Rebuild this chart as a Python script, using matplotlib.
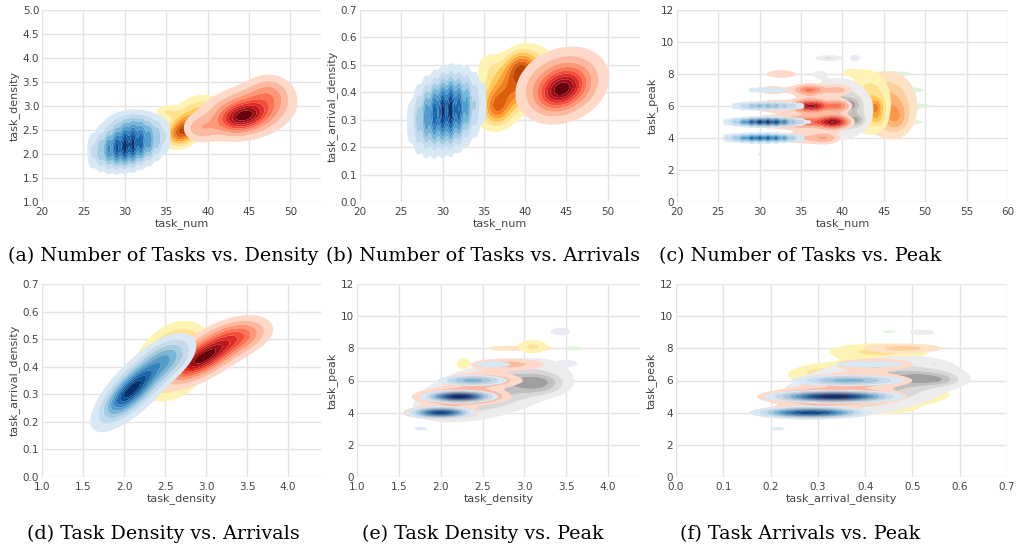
import numpy as np
import matplotlib
matplotlib.use("Agg")
import matplotlib.pyplot as plt

# Each density group is a mixture of Gaussian kernels:
# (centre_x, centre_y, spread_x, spread_y, correlation, relative_height)

# ---------------- (a) task_num vs task_density ----------------
a_blue_num = [26, 27, 28, 29, 30, 31, 32, 33, 34, 35]
a_blue_density = [2.02, 2.05, 2.08, 2.11, 2.14, 2.17, 2.2, 2.24, 2.28, 2.32]
a_blue_weight = [0.2, 0.38, 0.62, 0.85, 1.0, 0.95, 0.75, 0.52, 0.32, 0.16]
a_blue_extra = [(31.0, 2.62, 2.0, 0.2, 0.0, 0.3), (30.5, 2.25, 3.0, 0.33, 0.2, 0.25)]
a_yellow = [(37.0, 2.48, 1.3, 0.2, 0.3, 1.0), (39.5, 2.85, 2.0, 0.25, 0.0, 0.45),
            (35.0, 2.88, 1.0, 0.1, 0.0, 0.25)]
a_red = [(44.3, 2.78, 1.7, 0.18, 0.3, 0.55), (44.6, 2.85, 3.3, 0.33, 0.2, 0.5),
         (39.0, 2.52, 1.3, 0.18, 0.0, 0.2), (47.5, 3.3, 1.8, 0.25, 0.0, 0.22)]

# ---------------- (b) task_num vs task_arrival_density ----------------
b_blue_num = [26, 27, 28, 29, 30, 31, 32, 33, 34, 35]
b_blue_arrival = [0.29, 0.3, 0.31, 0.32, 0.33, 0.335, 0.34, 0.35, 0.355, 0.36]
b_blue_weight = [0.15, 0.35, 0.6, 0.8, 0.95, 1.0, 0.8, 0.55, 0.3, 0.15]
b_yellow = [(38.5, 0.42, 2.6, 0.08, 0.5, 1.0), (36.6, 0.34, 1.0, 0.04, 0.0, 0.5),
            (39.5, 0.49, 1.2, 0.04, 0.0, 0.6), (35.5, 0.5, 1.2, 0.04, 0.0, 0.2)]
b_red = [(44.4, 0.41, 1.6, 0.04, 0.3, 0.55), (44.5, 0.425, 3.2, 0.08, 0.2, 0.5)]

# ---------------- (c) task_num vs task_peak ----------------
c_blue_peak = [3, 4, 5, 6, 7]
c_blue_num = [26, 27, 28, 29, 30, 31, 32, 33, 34, 35, 36]
c_blue_weight = [
    [0.0, 0.0, 0.0, 0.0, 0.12, 0.0, 0.0, 0.0, 0.0, 0.0, 0.0],
    [0.25, 0.4, 0.6, 0.8, 0.85, 0.85, 0.75, 0.55, 0.35, 0.2, 0.0],
    [0.2, 0.35, 0.6, 0.85, 1.0, 1.0, 0.9, 0.65, 0.4, 0.25, 0.12],
    [0.0, 0.18, 0.3, 0.4, 0.45, 0.45, 0.42, 0.35, 0.28, 0.18, 0.0],
    [0.0, 0.0, 0.0, 0.15, 0.17, 0.18, 0.17, 0.14, 0.0, 0.0, 0.0],
]
c_red = [(35.0, 4, 2.0, 0.27, 0, 0.25), (38.0, 4, 1.2, 0.27, 0, 0.3),
         (39.0, 5, 1.2, 0.27, 0, 1.0), (35.5, 5, 2.0, 0.27, 0, 0.55), (31.0, 5, 2.5, 0.27, 0, 0.3),
         (36.3, 6, 1.3, 0.27, 0, 1.0), (39.5, 6, 1.0, 0.27, 0, 0.5), (32.0, 6, 2.5, 0.27, 0, 0.3),
         (36.0, 7, 1.3, 0.25, 0, 0.55), (39.5, 7, 1.2, 0.25, 0, 0.3), (31.5, 7, 1.5, 0.25, 0, 0.2),
         (32.6, 8, 1.5, 0.2, 0, 0.25)]
c_grey = [(39.5, 5.8, 2.6, 1.2, 0, 1.0), (41.6, 5.1, 0.7, 0.25, 0, 0.6), (41.0, 6.1, 0.7, 0.25, 0, 0.5),
          (37.2, 8, 0.6, 0.18, 0, 0.35), (38.3, 9, 1.3, 0.14, 0, 0.55)]
c_yellow = [(43.3, 6.2, 1.7, 1.35, 0, 1.0), (44.0, 5.9, 0.6, 0.35, 0, 0.9),
            (44.2, 5.2, 0.6, 0.3, 0, 0.5), (40.8, 8.1, 1.0, 0.22, 0, 0.35)]
c_orange = [(45.5, 6.1, 2.2, 1.3, 0, 1.0), (46.5, 5.2, 1.0, 0.6, 0, 0.5)]
c_green = [(45.8, 8, 2.4, 0.16, 0, 0.9), (47.5, 7, 2.2, 0.16, 0, 0.9),
           (48.0, 6, 2.2, 0.16, 0, 1.0), (48.0, 5, 1.6, 0.14, 0, 0.85)]
c_purple = [(41.5, 9, 0.5, 0.17, 0, 1.0)]

# ---------------- (d) task_density vs task_arrival_density ----------------
d_blue = [(2.07, 0.31, 0.17, 0.05, 0.75, 0.5), (2.15, 0.33, 0.3, 0.09, 0.75, 0.55),
          (2.55, 0.43, 0.2, 0.05, 0.5, 0.3)]
d_red = [(2.95, 0.43, 0.2, 0.04, 0.7, 0.5), (3.0, 0.44, 0.35, 0.07, 0.7, 0.55),
         (3.4, 0.51, 0.25, 0.04, 0.3, 0.3)]
d_yellow = [(2.6, 0.42, 0.25, 0.075, 0.3, 1.0)]

# ---------------- (e) task_density vs task_peak ----------------
e_blue = [(2.0, 4, 0.2, 0.2, 0, 0.9), (2.22, 5, 0.22, 0.2, 0, 1.0), (2.38, 6, 0.24, 0.2, 0, 0.45),
          (2.63, 7, 0.2, 0.18, 0, 0.17), (1.76, 3, 0.1, 0.14, 0, 0.13)]
e_red = [(2.25, 5, 0.3, 0.3, 0, 1.0), (2.5, 6, 0.3, 0.3, 0, 0.5), (2.8, 7, 0.32, 0.27, 0, 0.35),
         (2.0, 4, 0.25, 0.25, 0, 0.7)]
e_grey = [(2.6, 5.4, 0.58, 1.25, 0.5, 1.0), (3.15, 6.0, 0.2, 0.3, 0, 0.6), (3.2, 5.5, 0.2, 0.3, 0, 0.4)]
e_yellow = [(3.1, 8.1, 0.14, 0.32, 0, 1.0), (2.27, 7.05, 0.07, 0.3, 0, 0.85)]
e_orange = [(3.05, 8.0, 0.32, 0.17, 0, 1.0), (2.7, 8.0, 0.1, 0.1, 0, 0.7)]
e_green = [(3.57, 8, 0.1, 0.1, 0, 1.0), (3.6, 7, 0.05, 0.07, 0, 0.7)]
e_purple = [(3.43, 9.05, 0.1, 0.2, 0, 1.0), (3.49, 7.05, 0.12, 0.2, 0, 0.95)]

# ---------------- (f) task_arrival_density vs task_peak ----------------
f_blue = [(0.285, 4, 0.062, 0.2, 0, 0.9), (0.335, 5, 0.07, 0.2, 0, 1.0), (0.365, 6, 0.07, 0.2, 0, 0.45),
          (0.41, 7, 0.07, 0.18, 0, 0.17), (0.215, 3, 0.02, 0.14, 0, 0.13)]
f_red = [(0.33, 5, 0.08, 0.3, 0, 1.0), (0.38, 6, 0.075, 0.3, 0, 0.5), (0.42, 7, 0.06, 0.27, 0, 0.35),
         (0.28, 4, 0.07, 0.25, 0, 0.6), (0.55, 7.05, 0.012, 0.1, 0, 0.12)]
f_grey = [(0.41, 5.6, 0.12, 1.2, 0.4, 1.0), (0.52, 6.15, 0.045, 0.3, 0, 0.6),
          (0.56, 6.0, 0.03, 0.25, 0, 0.3), (0.52, 9, 0.025, 0.15, 0, 0.45)]
f_yellow = [(0.5, 5.1, 0.05, 0.35, 0, 1.0), (0.42, 4.2, 0.08, 0.3, 0, 0.5), (0.38, 6.3, 0.1, 0.5, 0, 0.6),
            (0.43, 7.8, 0.08, 0.4, 0, 0.7), (0.32, 6.5, 0.05, 0.4, 0, 0.4)]
f_orange = [(0.48, 8.0, 0.06, 0.22, 0, 1.0)]
f_green = [(0.452, 9.04, 0.014, 0.07, 0, 1.0), (0.4, 8.2, 0.012, 0.06, 0, 0.8)]

captions = ["(a) Number of Tasks vs. Density", "(b) Number of Tasks vs. Arrivals",
            "(c) Number of Tasks vs. Peak", "(d) Task Density vs. Arrivals",
            "(e) Task Density vs. Peak", "(f) Task Arrivals vs. Peak"]


def columns(xs, ys, ws, sx, sy):
    return [(x, y, sx, sy, 0.0, w) for x, y, w in zip(xs, ys, ws) if w > 0]


def grid_cells(xs, rows, weights, sx, sy):
    out = []
    for r, row in zip(rows, weights):
        for x, w in zip(xs, row):
            if w > 0:
                out.append((x, r, sx, sy, 0.0, w))
    return out


def mixture(X, Y, comps):
    Z = np.zeros_like(X)
    for mx, my, sx, sy, r, w in comps:
        dx = (X - mx) / sx
        dy = (Y - my) / sy
        q = (dx * dx - 2 * r * dx * dy + dy * dy) / (1 - r * r)
        Z += w * np.exp(-0.5 * q)
    return Z


def kde_fill(ax, comps, cmap_name, scale=1.0, nlev=10):
    """Filled density contours; the lowest band is left empty.
    scale > 1 means the group's densest part lies outside the shown mixture,
    so only the lighter shades appear."""
    x0, x1 = ax.get_xlim()
    y0, y1 = ax.get_ylim()
    X, Y = np.meshgrid(np.linspace(x0, x1, 600), np.linspace(y0, y1, 600))
    Z = mixture(X, Y, comps)
    zmax = Z.max() * scale
    levels = zmax * np.linspace(0.1, 1.0, nlev)
    levels[-1] = zmax * 1.001
    colors = plt.get_cmap(cmap_name)(np.linspace(0.15, 1.0, nlev - 1))
    ax.contourf(X, Y, Z, levels=levels, colors=colors, antialiased=True)


W, H = 1020, 552
fig = plt.figure(figsize=(W / 100, H / 100), dpi=100)
fig.patch.set_facecolor("white")

boxes = [(42, 321, 10, 202), (360, 640, 10, 202), (677, 1008, 10, 202),
         (42, 321, 284, 477), (357, 640, 284, 477), (676, 1007, 284, 477)]
axes = []
for l, r, t, b in boxes:
    ax = fig.add_axes([l / W, 1 - b / H, (r - l) / W, (b - t) / H])
    axes.append(ax)

tick_col = "#444444"
specs = [
    dict(xlim=(20, 53.7), ylim=(1.0, 5.0), xt=np.arange(20, 51, 5), yt=np.arange(1.0, 5.01, 0.5),
         xf="{:.0f}", yf="{:.1f}", xl="task_num", yl="task_density"),
    dict(xlim=(20, 53.9), ylim=(0.0, 0.7), xt=np.arange(20, 51, 5), yt=np.arange(0.0, 0.71, 0.1),
         xf="{:.0f}", yf="{:.1f}", xl="task_num", yl="task_arrival_density"),
    dict(xlim=(20, 60), ylim=(0, 12), xt=np.arange(20, 61, 5), yt=np.arange(0, 13, 2),
         xf="{:.0f}", yf="{:.0f}", xl="task_num", yl="task_peak"),
    dict(xlim=(1.0, 4.4), ylim=(0.0, 0.7), xt=np.arange(1.0, 4.01, 0.5), yt=np.arange(0.0, 0.71, 0.1),
         xf="{:.1f}", yf="{:.1f}", xl="task_density", yl="task_arrival_density"),
    dict(xlim=(1.0, 4.38), ylim=(0, 12), xt=np.arange(1.0, 4.01, 0.5), yt=np.arange(0, 13, 2),
         xf="{:.1f}", yf="{:.0f}", xl="task_density", yl="task_peak"),
    dict(xlim=(0.0, 0.7), ylim=(0, 12), xt=np.arange(0.0, 0.71, 0.1), yt=np.arange(0, 13, 2),
         xf="{:.1f}", yf="{:.0f}", xl="task_arrival_density", yl="task_peak"),
]

for ax, s in zip(axes, specs):
    ax.set_xlim(*s["xlim"])
    ax.set_ylim(*s["ylim"])
    ax.set_xticks(s["xt"])
    ax.set_yticks(s["yt"])
    ax.set_xticklabels([s["xf"].format(v) for v in s["xt"]])
    ax.set_yticklabels([s["yf"].format(v) for v in s["yt"]])
    ax.set_facecolor("white")
    for sp in ax.spines.values():
        sp.set_visible(False)
    ax.grid(True, color="#e3e3e3", linewidth=1.0)
    ax.set_axisbelow(True)
    ax.tick_params(axis="x", length=0, pad=3.5, labelsize=7.5, labelcolor=tick_col)
    ax.tick_params(axis="y", length=0, pad=2, labelsize=7.5, labelcolor=tick_col)
    ax.set_xlabel(s["xl"], fontsize=8, color=tick_col, labelpad=1)
    ax.set_ylabel(s["yl"], fontsize=8, color=tick_col, labelpad=2)

# (a)
ax = axes[0]
kde_fill(ax, a_yellow, "YlOrBr", scale=1.3)
kde_fill(ax, a_red, "Reds")
kde_fill(ax, columns(a_blue_num, a_blue_density, a_blue_weight, 0.37, 0.26) + a_blue_extra, "Blues")

# (b)
ax = axes[1]
kde_fill(ax, b_yellow, "YlOrBr", scale=1.25)
kde_fill(ax, b_red, "Reds")
kde_fill(ax, columns(b_blue_num, b_blue_arrival, b_blue_weight, 0.38, 0.08), "Blues")

# (c)
ax = axes[2]
kde_fill(ax, c_green, "Greens", scale=5)
kde_fill(ax, c_orange, "Oranges", scale=2.2)
kde_fill(ax, c_yellow, "YlOrBr", scale=1.8)
kde_fill(ax, c_purple, "Purples", scale=5)
kde_fill(ax, c_grey, "Greys", scale=2.0)
kde_fill(ax, c_red, "Reds", scale=1.1)
kde_fill(ax, grid_cells(c_blue_num, c_blue_peak, c_blue_weight, 0.37, 0.18), "Blues")

# (d)
ax = axes[3]
kde_fill(ax, d_yellow, "YlOrBr", scale=1.5)
kde_fill(ax, d_red, "Reds")
kde_fill(ax, d_blue, "Blues")

# (e)
ax = axes[4]
kde_fill(ax, e_green, "Greens", scale=5)
kde_fill(ax, e_purple, "Purples", scale=5)
kde_fill(ax, e_orange, "Oranges", scale=5)
kde_fill(ax, e_yellow, "YlOrBr", scale=4.5)
kde_fill(ax, e_grey, "Greys", scale=2.0)
kde_fill(ax, e_red, "Reds", scale=1.4)
kde_fill(ax, e_blue, "Blues")

# (f)
ax = axes[5]
kde_fill(ax, f_green, "Greens", scale=6)
kde_fill(ax, f_yellow, "YlOrBr", scale=3.0)
kde_fill(ax, f_orange, "Oranges", scale=4)
kde_fill(ax, f_grey, "Greys", scale=2.0)
kde_fill(ax, f_red, "Reds", scale=1.4)
kde_fill(ax, f_blue, "Blues")

# sub-figure captions
cap_x = [163, 483, 800]
cap_y = [256, 534]
for i, text in enumerate(captions):
    fig.text(cap_x[i % 3] / W, 1 - cap_y[i // 3] / H, text, ha="center", va="center",
             fontsize=13.8, family="DejaVu Serif", color="black")

fig.savefig("out.png", dpi=100, facecolor="white")
